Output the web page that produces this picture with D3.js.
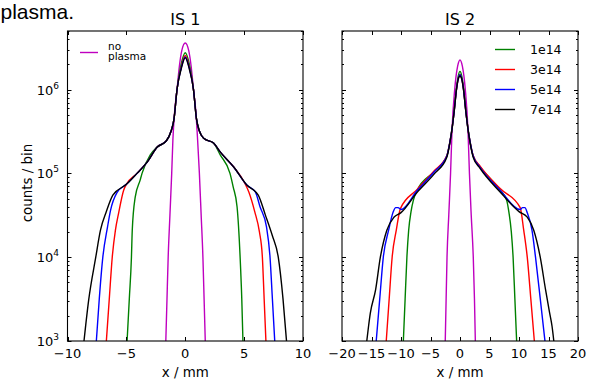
<!DOCTYPE html>
<html>
<head>
<meta charset="utf-8">
<script src="https://cdn.jsdelivr.net/npm/d3@7"></script>
<style>
  html, body { margin: 0; padding: 0; background: #fff; }
  svg { display: block; }
  text { font-family: "DejaVu Sans", sans-serif; fill: #000; }
  text.caption { font-family: "Liberation Sans", Arial, sans-serif; }
</style>
</head>
<body>
<svg id="chart" width="596" height="385"></svg>
<script>
// ---- data: beam profiles, counts per bin vs transverse position x (mm) ----
const densities = ["1e14", "3e14", "5e14", "7e14"];
const seriesColors = { none: "#bf00bf", "1e14": "#008000", "3e14": "#ff0000", "5e14": "#0000ff", "7e14": "#000000" };

// IS 1 profiles
const is1NoPlasma = [[-1.65,1e3],[-1.55,3.2e3],[-1.45,1e4],[-1.3,3.2e4],[-1.15,1e5],[-1.05,2.5e5],[-0.9,5.5e5],[-0.7,1.0e6],[-0.5,1.9e6],[-0.3,2.9e6],[0,3.6e6],[0.3,2.9e6],[0.5,1.9e6],[0.7,1.0e6],[0.9,5.5e5],[1.05,2.5e5],[1.2,1e5],[1.35,3.2e4],[1.5,1e4],[1.6,3.2e3],[1.7,1e3]];
const is1_1e14 = [[-4.94,1e3],[-4.75,3.2e3],[-4.57,1e4],[-4.5,2.1e4],[-4.25,5.2e4],[-3.83,8.3e4],[-3.67,1.0e5],[-2.97,1.66e5],[-2.4,2.05e5],[-1.6,2.45e5],[-1.2,3.2e5],[-0.95,4.5e5],[-0.7,1.0e6],[-0.35,2.0e6],[0,2.75e6],[0.35,2.0e6],[0.7,1.0e6],[0.95,4.5e5],[1.2,3.2e5],[1.6,2.6e5],[2.4,2.3e5],[2.97,1.66e5],[3.8,1.0e5],[4.07,6.9e4],[4.4,4.0e4],[4.66,1e4],[4.8,3.2e3],[4.9,1e3]];
const is1_3e14 = [[-6.7,1e3],[-6.45,3.2e3],[-6.2,1e4],[-5.93,2.1e4],[-5.65,3.4e4],[-5.23,6.3e4],[-5.0,7.4e4],[-4.1,1.0e5],[-3.2,1.38e5],[-2.4,2.05e5],[-1.6,2.45e5],[-1.2,3.2e5],[-0.95,4.5e5],[-0.7,1.0e6],[-0.35,1.85e6],[0,2.55e6],[0.35,1.85e6],[0.7,1.0e6],[0.95,4.5e5],[1.2,3.2e5],[1.6,2.6e5],[2.4,2.3e5],[3.0,1.78e5],[4.1,1.2e5],[5.0,7.9e4],[5.4,6.0e4],[5.9,3.5e4],[6.3,2.0e4],[6.55,1e4],[6.7,3.2e3],[6.85,1e3]];
const is1_5e14 = [[-7.55,1e3],[-7.3,3.2e3],[-7.0,1e4],[-6.6,2.3e4],[-6.35,3.6e4],[-5.8,5.9e4],[-5.0,7.4e4],[-4.1,1.0e5],[-3.2,1.38e5],[-2.4,2.05e5],[-1.6,2.45e5],[-1.2,3.2e5],[-0.95,4.5e5],[-0.7,1.0e6],[-0.35,1.8e6],[0,2.45e6],[0.35,1.8e6],[0.7,1.0e6],[0.95,4.5e5],[1.2,3.2e5],[1.6,2.6e5],[2.4,2.3e5],[3.0,1.78e5],[4.1,1.2e5],[5.25,7.2e4],[5.95,6.0e4],[6.35,4.0e4],[6.9,2.3e4],[7.2,1e4],[7.4,3.2e3],[7.6,1e3]];
const is1_7e14 = [[-8.6,1e3],[-8.2,3.1e3],[-7.6,1e4],[-7.2,2.1e4],[-6.7,3.5e4],[-6.15,5.5e4],[-5.0,7.4e4],[-4.1,1.0e5],[-3.2,1.38e5],[-2.4,2.05e5],[-1.6,2.45e5],[-1.2,3.2e5],[-0.95,4.5e5],[-0.7,1.0e6],[-0.35,1.75e6],[0,2.4e6],[0.35,1.75e6],[0.7,1.0e6],[0.95,4.5e5],[1.2,3.2e5],[1.6,2.6e5],[2.4,2.3e5],[3.0,1.78e5],[4.1,1.2e5],[5.25,7.2e4],[6.2,5.5e4],[6.8,3.2e4],[7.4,1.8e4],[7.9,1e4],[8.3,3.2e3],[8.6,1e3]];

// IS 2 profiles
const is2NoPlasma = [[-2.5,1e3],[-2.35,3.2e3],[-2.2,1e4],[-1.9,3.2e4],[-1.6,1e5],[-1.35,3.3e5],[-0.9,1.0e6],[-0.4,1.9e6],[0,2.25e6],[0.4,1.9e6],[0.9,1.0e6],[1.35,3.3e5],[1.6,1e5],[1.9,3.2e4],[2.25,1e4],[2.45,3.2e3],[2.6,1e3]];
const is2_1e14 = [[-9.6,1e3],[-9.3,3.2e3],[-9.0,1e4],[-8.7,2.1e4],[-8.3,3.5e4],[-7.9,4.8e4],[-7.3,6.2e4],[-4.4,1.05e5],[-2.25,1.6e5],[-1.7,2.4e5],[-1.35,3.4e5],[-1.0,5.5e5],[-0.6,1.05e6],[-0.3,1.45e6],[0,1.65e6],[0.3,1.45e6],[0.6,1.05e6],[1.0,5.5e5],[1.35,3.4e5],[1.7,2.4e5],[2.25,1.6e5],[3.4,1.2e5],[6.8,6.3e4],[7.9,4.8e4],[8.3,3.4e4],[8.7,2.0e4],[9.0,1e4],[9.3,3.2e3],[9.6,1e3]];
const is2_3e14 = [[-12.5,1e3],[-12.0,3.2e3],[-11.5,1e4],[-10.8,2.1e4],[-10.1,3.8e4],[-7.3,6.4e4],[-4.4,1.07e5],[-2.25,1.62e5],[-1.7,2.4e5],[-1.35,3.4e5],[-1.0,5.4e5],[-0.6,1.0e6],[-0.3,1.35e6],[0,1.52e6],[0.3,1.35e6],[0.6,1.0e6],[1.0,5.4e5],[1.35,3.4e5],[1.7,2.4e5],[2.25,1.62e5],[3.4,1.22e5],[6.8,6.6e4],[10.2,3.9e4],[10.8,2.1e4],[11.4,1e4],[12.0,3.2e3],[12.6,1e3]];
const is2_5e14 = [[-14.2,1e3],[-13.6,3.2e3],[-13.0,1e4],[-12.1,2.1e4],[-11.3,3.5e4],[-10.9,3.9e4],[-10.5,3.9e4],[-10.0,3.7e4],[-7.3,6.2e4],[-4.4,1.04e5],[-2.25,1.6e5],[-1.7,2.4e5],[-1.35,3.4e5],[-1.0,5.4e5],[-0.6,1.0e6],[-0.3,1.35e6],[0,1.5e6],[0.3,1.35e6],[0.6,1.0e6],[1.0,5.4e5],[1.35,3.4e5],[1.7,2.4e5],[2.25,1.6e5],[3.4,1.18e5],[6.8,6.3e4],[10.2,3.7e4],[10.6,3.9e4],[11.0,3.9e4],[11.4,3.4e4],[12.2,2.1e4],[12.8,1e4],[13.6,3.2e3],[14.4,1e3]];
const is2_7e14 = [[-15.8,1e3],[-15.5,1.5e3],[-15.2,2.15e3],[-14.3,4.1e3],[-13.5,1e4],[-12.4,2.1e4],[-11.2,3.0e4],[-10.0,3.4e4],[-7.3,5.9e4],[-4.4,9.8e4],[-2.25,1.55e5],[-1.7,2.35e5],[-1.35,3.4e5],[-1.0,5.4e5],[-0.6,1.0e6],[-0.3,1.33e6],[0,1.45e6],[0.3,1.33e6],[0.6,1.0e6],[1.0,5.4e5],[1.35,3.4e5],[1.7,2.35e5],[2.25,1.55e5],[3.4,1.15e5],[6.8,6.0e4],[10.0,3.5e4],[11.4,3.0e4],[12.5,2.1e4],[13.6,1e4],[14.5,4.1e3],[15.2,2.15e3],[15.6,1.5e3],[15.9,1e3]];

const xTicksIS1 = [-10, -5, 0, 5, 10];
const xTicksIS2 = [-20, -15, -10, -5, 0, 5, 10, 15, 20];
const yMajorTicks = [1e3, 1e4, 1e5, 1e6];
const yTickExponents = ["3", "4", "5", "6"];

// ---- layout ----
const svg = d3.select("#chart");
const plotTop = 31, plotBottom = 341;
const y = d3.scaleLog().domain([1e3, 5e6]).range([plotBottom, plotTop]);

const panels = [
  { title: "IS 1", x: d3.scaleLinear().domain([-10, 10]).range([67.5, 303]), ticks: xTicksIS1,
    series: [["none", is1NoPlasma], ["1e14", is1_1e14], ["3e14", is1_3e14], ["5e14", is1_5e14], ["7e14", is1_7e14]], yLabels: true },
  { title: "IS 2", x: d3.scaleLinear().domain([-20, 20]).range([342, 578]), ticks: xTicksIS2,
    series: [["none", is2NoPlasma], ["1e14", is2_1e14], ["3e14", is2_3e14], ["5e14", is2_5e14], ["7e14", is2_7e14]], yLabels: false }
];

// minor log ticks 2..9 per decade inside the domain
const yMinorTicks = [];
for (let d = 1e3; d < 5e6; d *= 10) {
  for (let k = 2; k <= 9; k++) if (d * k <= 5e6) yMinorTicks.push(d * k);
}

const fmtMinus = v => (v < 0 ? "\u2212" + Math.abs(v) : String(v));

panels.forEach((p, i) => {
  const x = p.x;
  const [x0, x1] = x.range();
  const g = svg.append("g");

  // clip region for the profile lines
  const clipId = "clip" + i;
  svg.append("clipPath").attr("id", clipId)
    .append("rect").attr("x", x0).attr("y", plotTop).attr("width", x1 - x0).attr("height", plotBottom - plotTop);

  const line = d3.line()
    .x(d => x(d[0]))
    .y(d => y(d[1]))
    .curve(d3.curveMonotoneX);

  const lines = g.append("g").attr("clip-path", `url(#${clipId})`);
  p.series.forEach(([key, data]) => {
    lines.append("path")
      .datum(data)
      .attr("d", line)
      .attr("fill", "none")
      .attr("stroke", seriesColors[key])
      .attr("stroke-width", 1.4)
      .attr("stroke-linejoin", "round");
  });

  // ticks (inward, on all four sides)
  const tk = g.append("g").attr("stroke", "#000").attr("stroke-width", 1);
  p.ticks.forEach(t => {
    const px = Math.round(x(t)) + 0.5;
    tk.append("line").attr("x1", px).attr("x2", px).attr("y1", plotBottom).attr("y2", plotBottom - 4);
    tk.append("line").attr("x1", px).attr("x2", px).attr("y1", plotTop).attr("y2", plotTop + 4);
  });
  yMajorTicks.forEach(t => {
    const py = Math.round(y(t)) + 0.5;
    tk.append("line").attr("x1", x0).attr("x2", x0 + 4).attr("y1", py).attr("y2", py);
    tk.append("line").attr("x1", x1).attr("x2", x1 - 4).attr("y1", py).attr("y2", py);
  });
  yMinorTicks.forEach(t => {
    const py = Math.round(y(t)) + 0.5;
    tk.append("line").attr("x1", x0).attr("x2", x0 + 2).attr("y1", py).attr("y2", py);
    tk.append("line").attr("x1", x1).attr("x2", x1 - 2).attr("y1", py).attr("y2", py);
  });

  // frame
  g.append("rect")
    .attr("x", x0).attr("y", plotTop).attr("width", x1 - x0).attr("height", plotBottom - plotTop)
    .attr("fill", "none").attr("stroke", "#000").attr("stroke-width", 1.1);

  // x tick labels
  g.append("g").selectAll("text").data(p.ticks).join("text")
    .attr("x", d => x(d)).attr("y", 358)
    .attr("text-anchor", "middle").attr("font-size", 13)
    .text(fmtMinus);

  // y tick labels (left panel only)
  if (p.yLabels) {
    yMajorTicks.forEach((t, j) => {
      const tx = g.append("text")
        .attr("x", 59).attr("y", y(t) + 5)
        .attr("text-anchor", "end").attr("font-size", 13);
      tx.append("tspan").text("10");
      tx.append("tspan").attr("font-size", 9).attr("dy", -6).text(yTickExponents[j]);
    });
  }

  // axis label and title
  g.append("text").attr("x", (x0 + x1) / 2).attr("y", 377)
    .attr("text-anchor", "middle").attr("font-size", 13.4).text("x / mm");
  g.append("text").attr("x", (x0 + x1) / 2).attr("y", 25)
    .attr("text-anchor", "middle").attr("font-size", 16).text(p.title);
});

// y axis label
svg.append("text")
  .attr("transform", `translate(32,${(plotTop + plotBottom) / 2 - 3}) rotate(-90)`)
  .attr("text-anchor", "middle").attr("font-size", 13.4)
  .text("counts / bin");

// legend, IS 1 panel
const legL = svg.append("g");
legL.append("line").attr("x1", 80).attr("x2", 98).attr("y1", 52.5).attr("y2", 52.5)
  .attr("stroke", seriesColors.none).attr("stroke-width", 1.4);
legL.append("text").attr("x", 108).attr("y", 49.5).attr("font-size", 10.5).text("no");
legL.append("text").attr("x", 108).attr("y", 60).attr("font-size", 10.5).text("plasma");

// legend, IS 2 panel
const legR = svg.append("g");
densities.forEach((d, j) => {
  const ly = 49.5 + j * 20;
  legR.append("line").attr("x1", 495).attr("x2", 515).attr("y1", ly).attr("y2", ly)
    .attr("stroke", seriesColors[d]).attr("stroke-width", 1.4);
  legR.append("text").attr("x", 530).attr("y", ly + 4.5).attr("font-size", 12.5).text(d);
});

// caption fragment above the figure
svg.append("text").attr("class", "caption").attr("x", 0.5).attr("y", 19)
  .attr("font-size", 21).text("plasma.");
</script>
</body>
</html>
